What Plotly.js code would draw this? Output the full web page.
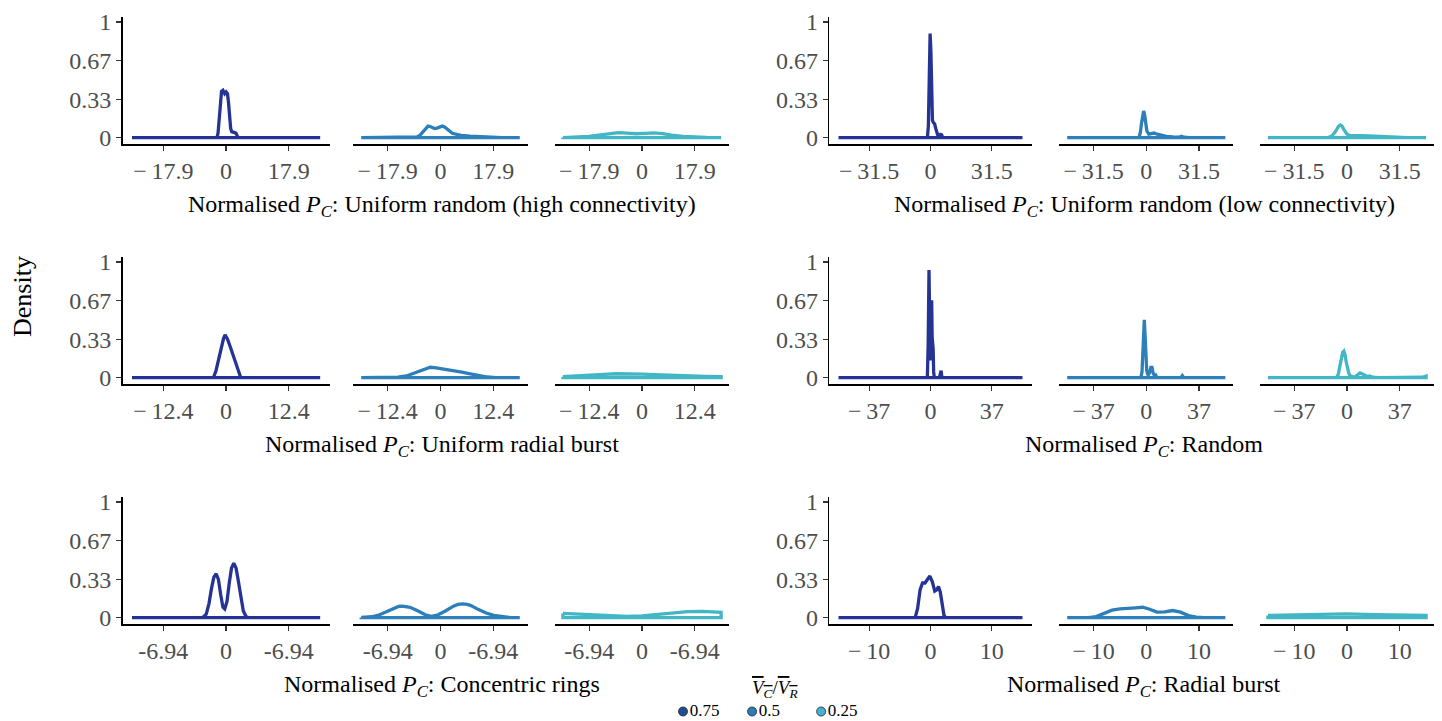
<!DOCTYPE html>
<html>
<head>
<meta charset="utf-8">
<script src="https://cdn.plot.ly/plotly-3.0.1.min.js"></script>
<style>html,body{margin:0;padding:0;background:#fff;}#chart{width:1442px;height:721px;}</style>
</head>
<body>
<div id="chart"></div>
<script>
// ---------- data ----------
const panelTitles = ["Uniform random (high connectivity)", "Uniform random (low connectivity)",
  "Uniform radial burst", "Random", "Concentric rings", "Radial burst"];
const ratioLabels = ["0.75", "0.5", "0.25"];
const yTickVals = [0, 0.33, 0.67, 1];
const yTickText = ["0", "0.33", "0.67", "1"];

// tick values / labels per panel
const urhTicks = [-17.9, 0, 17.9];  const urhTickText = ["\u2212\u200917.9", "0", "17.9"];
const urlTicks = [-31.5, 0, 31.5];  const urlTickText = ["\u2212\u200931.5", "0", "31.5"];
const urbTicks = [-12.4, 0, 12.4];  const urbTickText = ["\u2212\u200912.4", "0", "12.4"];
const rndTicks = [-37, 0, 37];      const rndTickText = ["\u2212\u200937", "0", "37"];
const crTicks  = [-6.94, 0, 6.94];  const crTickText  = ["-6.94", "0", "-6.94"];
const rbTicks  = [-10, 0, 10];      const rbTickText  = ["\u2212\u200910", "0", "10"];

// Uniform random (high connectivity)
const urh075x = [-26.85, -2.6, -2.3, -2.0, -1.7, -1.3, -0.9, -0.4, 0.0, 0.4, 0.7, 1.0, 1.3, 1.6, 2.2, 2.8, 3.2, 3.6, 26.85];
const urh075y = [0, 0, 0.04, 0.15, 0.3, 0.40, 0.41, 0.38, 0.395, 0.38, 0.3, 0.18, 0.08, 0.052, 0.045, 0.04, 0.015, 0, 0];
const urh050x = [-26.85, -12, -9, -8, -7, -6, -5, -4.2, -3.5, -2.8, -2, -1.2, -0.3, 0.6, 1.4, 2.2, 3, 4, 5.5, 7, 10, 13, 17, 21, 26.85];
const urh050y = [0, 0.001, 0.003, 0.006, 0.02, 0.05, 0.085, 0.1, 0.097, 0.087, 0.08, 0.083, 0.095, 0.1, 0.093, 0.075, 0.055, 0.038, 0.028, 0.02, 0.013, 0.009, 0.004, 0.001, 0];
const urh025x = [-26.85, -22, -18, -14, -11, -8, -5, -2, 1, 4, 7, 10, 14, 18, 22, 26.85];
const urh025y = [0.001, 0.004, 0.012, 0.025, 0.037, 0.043, 0.04, 0.034, 0.038, 0.042, 0.035, 0.022, 0.012, 0.006, 0.003, 0.001];

// Uniform random (low connectivity)
const url075x = [-47.25, -1.6, -1.1, -0.6, -0.2, 0.2, 0.6, 1.0, 1.5, 2.1, 2.7, 3.3, 3.9, 4.5, 5.1, 5.7, 6.3, 47.25];
const url075y = [0, 0, 0.1, 0.55, 0.9, 0.75, 0.35, 0.15, 0.13, 0.12, 0.08, 0.03, 0.012, 0.015, 0.028, 0.025, 0, 0];
const url050x = [-47.25, -5, -4.2, -3.5, -2.9, -2.3, -1.6, -1.0, -0.4, 0.3, 1.5, 3, 4.6, 6.5, 9, 12, 16, 19.5, 21, 22.5, 26, 47.25];
const url050y = [0, 0, 0.01, 0.05, 0.12, 0.2, 0.23, 0.2, 0.12, 0.06, 0.03, 0.035, 0.04, 0.03, 0.02, 0.012, 0.006, 0.004, 0.012, 0.004, 0.001, 0];
const url025x = [-47.25, -13, -11, -9, -8, -7, -6, -5, -4, -3, -2, -1, 0, 2, 4, 8, 13, 18, 24, 30, 36, 47.25];
const url025y = [0, 0, 0.003, 0.015, 0.03, 0.05, 0.075, 0.1, 0.11, 0.1, 0.075, 0.045, 0.03, 0.017, 0.015, 0.017, 0.016, 0.012, 0.006, 0.002, 0.001, 0];

// Uniform radial burst
const urb075x = [-18.6, -2.5, -2.0, -1.5, -1.0, -0.5, -0.2, 0.3, 0.8, 1.4, 2.0, 2.5, 2.9, 18.6];
const urb075y = [0, 0, 0.06, 0.16, 0.26, 0.34, 0.37, 0.33, 0.27, 0.19, 0.11, 0.04, 0, 0];
const urb050x = [-18.6, -13, -10, -8, -6, -4, -2.4, -1, 1, 3, 5, 7, 9, 11, 13, 18.6];
const urb050y = [0, 0.001, 0.005, 0.015, 0.04, 0.07, 0.09, 0.085, 0.075, 0.062, 0.048, 0.033, 0.018, 0.006, 0.001, 0];
const urb025x = [-18.6, -15, -12, -9, -6, -3, 0, 3, 6, 9, 12, 15, 18.6];
const urb025y = [0.008, 0.013, 0.02, 0.028, 0.034, 0.035, 0.031, 0.026, 0.021, 0.017, 0.013, 0.011, 0.009];

// Random
const rnd075x = [-55.5, -1.9, -1.4, -0.9, -0.5, -0.1, 0.3, 0.7, 1.0, 1.3, 1.6, 1.9, 2.3, 5.4, 5.9, 6.4, 6.9, 55.5];
const rnd075y = [0, 0, 0.3, 0.93, 0.5, 0.15, 0.4, 0.67, 0.35, 0.3, 0.25, 0.05, 0, 0, 0.05, 0.06, 0, 0];
const rnd050x = [-55.5, -3.8, -3.0, -2.2, -1.4, -0.6, 0.3, 1.2, 2.2, 3.2, 4.0, 4.8, 5.8, 6.6, 7.4, 24.3, 25.3, 26.3, 55.5];
const rnd050y = [0, 0, 0.05, 0.3, 0.5, 0.3, 0.06, 0.02, 0.04, 0.09, 0.09, 0.04, 0.015, 0.022, 0.003, 0, 0.018, 0, 0];
const rnd025x = [-55.5, -8, -7, -6, -5, -4, -3, -2.2, -1.4, -0.6, 0.3, 1.2, 2, 4, 6, 7, 8, 9, 10, 11, 12, 14, 16, 18, 22, 50, 53, 55.5];
const rnd025y = [0, 0, 0.008, 0.035, 0.1, 0.17, 0.22, 0.23, 0.2, 0.14, 0.08, 0.04, 0.02, 0.008, 0.01, 0.02, 0.033, 0.04, 0.037, 0.03, 0.02, 0.01, 0.014, 0.004, 0.001, 0, 0.004, 0.014];

// Concentric rings
const cr075x = [-10.41, -2.6, -2.2, -1.9, -1.6, -1.35, -1.1, -0.85, -0.6, -0.35, -0.15, 0.1, 0.35, 0.6, 0.85, 1.1, 1.35, 1.6, 1.9, 2.2, 2.5, 10.41];
const cr075y = [0, 0, 0.03, 0.12, 0.26, 0.35, 0.38, 0.33, 0.2, 0.09, 0.075, 0.14, 0.3, 0.43, 0.47, 0.43, 0.32, 0.18, 0.06, 0.01, 0, 0];
const cr050x = [-10.41, -9, -8, -7, -6.5, -6, -5.5, -5, -4.5, -4, -3, -2, -1.2, -0.3, 0.7, 1.7, 2.3, 2.9, 3.5, 4, 5, 6, 7, 8, 9, 10.41];
const cr050y = [0.002, 0.008, 0.025, 0.055, 0.072, 0.087, 0.097, 0.1, 0.097, 0.09, 0.06, 0.025, 0.012, 0.025, 0.06, 0.1, 0.115, 0.12, 0.115, 0.105, 0.07, 0.04, 0.02, 0.008, 0.003, 0.001];
const cr025x = [-10.41, -8, -6, -4, -2, 0, 2, 4, 6, 8, 10.41];
const cr025y = [0.037, 0.03, 0.02, 0.013, 0.011, 0.016, 0.028, 0.043, 0.053, 0.055, 0.046];

// Radial burst
const rb075x = [-15, -2.5, -2.1, -1.7, -1.3, -0.9, -0.5, -0.1, 0.3, 0.7, 1.0, 1.3, 1.6, 1.9, 2.2, 2.5, 15];
const rb075y = [0, 0, 0.08, 0.24, 0.3, 0.3, 0.33, 0.36, 0.31, 0.23, 0.24, 0.27, 0.22, 0.1, 0.02, 0, 0];
const rb050x = [-15, -11, -9.5, -8, -6.5, -5, -3.5, -2, -0.7, 0.5, 2, 3.5, 5, 6.5, 8, 9.5, 11, 15];
const rb050y = [0, 0.001, 0.01, 0.035, 0.065, 0.076, 0.077, 0.085, 0.09, 0.075, 0.048, 0.05, 0.062, 0.048, 0.018, 0.004, 0, 0];
const rb025x = [-15, -10, -5, 0, 5, 10, 15];
const rb025y = [0.02, 0.026, 0.029, 0.033, 0.026, 0.022, 0.02];

// ---------- build ----------
const W = 1442, H = 721;
const lineColors = ["#253494", "#2c7fb8", "#41b6c4"];
const legendColors = ["#1f4f93", "#2b7cb7", "#46b1d3"];
const FONT = "Liberation Serif, Times New Roman, serif";

const panels = [
  {ticks: urhTicks, text: urhTickText, curves: [[urh075x, urh075y], [urh050x, urh050y], [urh025x, urh025y]]},
  {ticks: urlTicks, text: urlTickText, curves: [[url075x, url075y], [url050x, url050y], [url025x, url025y]]},
  {ticks: urbTicks, text: urbTickText, curves: [[urb075x, urb075y], [urb050x, urb050y], [urb025x, urb025y]]},
  {ticks: rndTicks, text: rndTickText, curves: [[rnd075x, rnd075y], [rnd050x, rnd050y], [rnd025x, rnd025y]]},
  {ticks: crTicks,  text: crTickText,  curves: [[cr075x, cr075y], [cr050x, cr050y], [cr025x, cr025y]]},
  {ticks: rbTicks,  text: rbTickText,  curves: [[rb075x, rb075y], [rb050x, rb050y], [rb025x, rb025y]]}
];

// pixel domains of the three sub-panels in each column
const colDomPx = [
  [[122.6, 329.6], [353.3, 527.7], [555, 729]],
  [[829.3, 1031.7], [1059.3, 1233.3], [1260, 1434]]
];
const titleXPx = [442, 1144];
const rowOffset = 240;

const traces = [];
const layout = {
  width: W, height: H,
  margin: {l: 0, r: 0, t: 0, b: 0, pad: 0},
  paper_bgcolor: "#fff", plot_bgcolor: "rgba(0,0,0,0)",
  font: {family: FONT, color: "#000"},
  showlegend: false,
  annotations: []
};

let axIdx = 0;
panels.forEach((p, pi) => {
  const col = pi % 2, row = Math.floor(pi / 2);
  const t = Math.abs(p.ticks[2]);
  const xr = [-1.65 * t, 1.65 * t];
  const yBotPx = 144 + rowOffset * row, yTopPx = 17 + rowOffset * row;
  for (let s = 0; s < 3; s++) {
    axIdx++;
    const xn = axIdx === 1 ? "xaxis" : "xaxis" + axIdx;
    const yn = axIdx === 1 ? "yaxis" : "yaxis" + axIdx;
    const xa = axIdx === 1 ? "x" : "x" + axIdx;
    const ya = axIdx === 1 ? "y" : "y" + axIdx;
    const d = colDomPx[col][s];
    layout[xn] = {
      domain: [d[0] / W, d[1] / W], anchor: ya, range: xr,
      showline: true, linecolor: "#000", linewidth: 1.6,
      ticks: "outside", ticklen: 5, tickwidth: 1.3, tickcolor: "#333",
      tickvals: p.ticks, ticktext: p.text,
      tickfont: {family: FONT, size: 24, color: "#4d4d4d"},
      showgrid: false, zeroline: false, fixedrange: true
    };
    layout[yn] = {
      domain: [1 - yBotPx / H, 1 - yTopPx / H], anchor: xa, range: [-0.0545, 1.0432],
      showgrid: false, zeroline: false, fixedrange: true,
      visible: s === 0,
      showline: true, linecolor: "#000", linewidth: 1.6,
      ticks: "outside", ticklen: 5, tickwidth: 1.3, tickcolor: "#333",
      tickvals: yTickVals, ticktext: yTickText,
      tickfont: {family: FONT, size: 24, color: "#4d4d4d"}
    };
    const cx = p.curves[s][0], cy = p.curves[s][1];
    const n = cx.length;
    // density outline closed along the baseline
    const px = cx.concat([cx[n - 1], cx[0], cx[0]]);
    const py = cy.concat([0, 0, cy[0]]);
    traces.push({
      type: "scatter", mode: "lines", x: px, y: py, xaxis: xa, yaxis: ya,
      line: {color: lineColors[s], width: 3.3, shape: "linear"},
      showlegend: false, hoverinfo: "skip"
    });
  }
  layout.annotations.push({
    xref: "paper", yref: "paper", x: titleXPx[col] / W, y: 1 - (206 + rowOffset * row) / H,
    xanchor: "center", yanchor: "middle", showarrow: false,
    text: "Normalised <i>P</i><sub><i>C</i></sub>: " + panelTitles[pi],
    font: {family: FONT, size: 24, color: "#000"}
  });
});

layout.annotations.push({
  xref: "paper", yref: "paper", x: 22 / W, y: 1 - 297 / H, xanchor: "center", yanchor: "middle",
  showarrow: false, textangle: -90, text: "Density",
  font: {family: FONT, size: 26, color: "#000"}
});

// legend (colour key) drawn on its own small axis
const legAx = 19;
layout["xaxis" + legAx] = {
  domain: [675 / W, 875 / W], anchor: "y" + legAx, range: [-0.116, 2.78],
  visible: false, fixedrange: true
};
layout["yaxis" + legAx] = {
  domain: [1 - 722 / H, 1 - 702 / H], anchor: "x" + legAx, range: [-1, 1],
  visible: false, fixedrange: true
};
traces.push({
  type: "scatter", mode: "markers+text", x: [0, 1, 2], y: [0, 0, 0],
  xaxis: "x" + legAx, yaxis: "y" + legAx,
  text: ratioLabels, textposition: "middle right",
  textfont: {family: FONT, size: 17, color: "#000"},
  marker: {color: legendColors, size: 9, symbol: "circle", line: {color: "#222", width: 0.8}},
  showlegend: false, hoverinfo: "skip", cliponaxis: false
});
layout.annotations.push({
  xref: "paper", yref: "paper", x: 775 / W, y: 1 - 689 / H, xanchor: "center", yanchor: "middle",
  showarrow: false,
  text: '<span style="text-decoration:overline"><i>V<sub>C</sub></i></span>/<span style="text-decoration:overline"><i>V<sub>R</sub></i></span>',
  font: {family: FONT, size: 19, color: "#000"}
});

Plotly.newPlot("chart", traces, layout, {staticPlot: true, displayModeBar: false});
</script>
</body>
</html>
